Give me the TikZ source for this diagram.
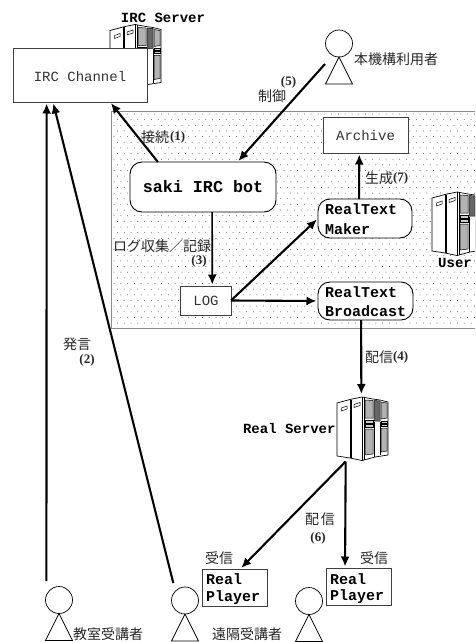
\documentclass[tikz,border=0pt]{standalone}
\usepackage{fontspec}
\setmainfont{Liberation Serif}
\setmonofont{Liberation Mono}
\newfontfamily\cjk{Noto Sans CJK JP}
\usetikzlibrary{arrows.meta}
\newcommand{\fs}[1]{\fontsize{#1}{19}\selectfont}
\tikzset{
  x=1pt,y=-1pt,
  box/.style={draw=black!75,line width=0.9pt,fill=white,inner sep=0pt,outer sep=0pt,minimum width=#1},
  rbox/.style={draw=black,line width=0.9pt,fill=white,rounded corners=12pt,inner sep=0pt,outer sep=0pt,minimum width=#1},
  ghost/.style={inner sep=0pt,outer sep=0pt},
  lab/.style={inner sep=0pt,outer sep=0pt,font=\cjk\fs{14}\color{black!85}},
  num/.style={inner sep=0pt,outer sep=0pt,font=\bfseries\fs{13}\color{black!85}},
  tt/.style={inner sep=0pt,outer sep=0pt,font=\ttfamily\fs{14}\color{black!80}},
  ttb/.style={inner sep=0pt,outer sep=0pt,font=\ttfamily\bfseries\fs{14}},
  conn/.style={line width=2.1pt,-{Latex[length=10pt,width=9pt]},shorten >=1.5pt},
  person/.pic={
    \draw[line width=0.7pt,fill=white] (0,-13.5) circle (13.5);
    \draw[line width=0.7pt] (0,0) -- (-13.5,27) -- (13.5,27) -- cycle;
  },
  serverpic/.pic={
    \begin{scope}[line width=0.7pt]
    \draw[fill=white] (0,6) -- (13,2.5) -- (25,0) -- (36,2) -- (43,3) -- (51,5) -- (51,58) -- (38,60) -- (25,63.5) -- (13,61) -- (0,59) -- cycle;
    \draw (13,2.5) -- (13,61) (14.5,2.5) -- (14.5,61) (25,0) -- (25,63.5) (27,0.5) -- (27,63);
    \draw[fill=black!30,line width=0.5pt] (28,3) -- (36,3.5) -- (36,21) -- (28,21) -- cycle;
    \draw[fill=black!60,line width=0.5pt] (37,3.5) -- (43,4) -- (43,24) -- (37,24) -- cycle;
    \draw[fill=black!30,line width=0.5pt] (44,5) -- (50,6) -- (50,21) -- (44,22) -- cycle;
    \draw[fill=black!30,line width=0.5pt] (28,32) -- (36,32) -- (36,57) -- (28,58) -- cycle;
    \draw[fill=black!30,line width=0.5pt] (44,31) -- (50,31) -- (50,54) -- (44,55) -- cycle;
    \draw[fill=black!20,line width=0.5pt] (28,23) rectangle (36,26) (28,27) rectangle (36,30) (44,24) rectangle (50,26) (44,27) rectangle (50,29);
    \draw (37,25) -- (37,60) (43,25) -- (43,58);
    \draw[fill=white,line width=0.5pt] (4.5,11) -- (10,9) -- (10,12) -- (4.5,14) -- cycle;
    \draw[fill=white,line width=0.5pt] (17,7.5) -- (23,5.5) -- (23,8.5) -- (17,10.5) -- cycle;
    \end{scope}
  }
}
\begin{document}
\begin{tikzpicture}
\useasboundingbox (0,0) rectangle (475,642);
\clip (0,0) rectangle (475,642);
% dotted area
\draw[black!45,line width=0.8pt] (111,328) -- (111,111) -- (475,111) (111,328) -- (475,328);
\fill[black!65]
  \foreach \r in {0,...,37}{
    \foreach \c in {0,...,53}{
      ({114+\c*6.8+mod(\r,2)*3.4},{114+\r*5.65}) circle (0.5)
    }
  };
% servers
\node[ghost,minimum width=51pt,minimum height=66pt] (ircsrv) at (135.5,56) {};
\pic at (110,24.5) {serverpic};
\node[ghost,minimum width=51pt,minimum height=66pt] (usrsrv) at (457.5,224) {};
\pic at (432,192) {serverpic};
\node[ghost,minimum width=51pt,minimum height=66pt] (realsrv) at (362.5,428.5) {};
\pic at (337,397) {serverpic};
% boxes
\node[box=134pt,minimum height=54pt] (channel) at (80,75) {};
\node[tt,anchor=center] at (80,76) {IRC Channel};
\node[rbox=146pt,minimum height=50pt] (bot) at (203,187) {};
\node[ttb,font=\ttfamily\bfseries\fs{16.7}] at (203,187) {saki IRC bot};
\node[box=85pt,minimum height=36pt] (archive) at (365.5,135) {};
\node[tt] at (365.5,135) {Archive};
\node[rbox=94pt,minimum height=39pt] (maker) at (365,218.5) {};
\node[ttb,font=\ttfamily\bfseries\fs{15},anchor=west] at (325,209) {RealText};
\node[ttb,font=\ttfamily\bfseries\fs{15},anchor=west] at (325,229) {Maker};
\node[rbox=95pt,minimum height=38pt] (bcast) at (365.5,301) {};
\node[ttb,font=\ttfamily\bfseries\fs{15},anchor=west] at (325,292.5) {RealText};
\node[ttb,font=\ttfamily\bfseries\fs{15},anchor=west] at (325,311) {Broadcast};
\node[box=51pt,minimum height=29pt] (log) at (205.5,300.5) {};
\node[tt] at (206,300.5) {LOG};
\node[box=65pt,minimum height=37pt] (player1) at (234.5,587.5) {};
\node[ttb,font=\ttfamily\bfseries\fs{15},anchor=west] at (206,579) {Real};
\node[ttb,font=\ttfamily\bfseries\fs{15},anchor=west] at (206,598) {Player};
\node[box=65pt,minimum height=37pt] (player2) at (358.5,586.5) {};
\node[ttb,font=\ttfamily\bfseries\fs{15},anchor=west] at (330,579) {Real};
\node[ttb,font=\ttfamily\bfseries\fs{15},anchor=west] at (330,597) {Player};
% persons
\node[ghost,minimum width=27pt,minimum height=55pt] (uA) at (338.5,56.5) {};
\pic at (339,57) {person};
\node[ghost,minimum width=28pt,minimum height=54pt] (uB) at (59,613) {};
\pic at (59,613.5) {person};
\node[ghost,minimum width=28pt,minimum height=53pt] (uC) at (185,613.5) {};
\pic at (185,614) {person};
\node[ghost,minimum width=28pt,minimum height=53pt] (uD) at (309,614) {};
\pic at (309,614.5) {person};
% connectors
\draw[conn] (uB.115.7) ++(0,-5) -- (channel.-141.5);
\draw[conn] (uC.112.5) ++(-1,-4) -- (channel.-135);
\draw[conn] (bot.151.5) -- (channel.-42);
\draw[conn] (uA.209) -- (bot.36.3);
\draw[conn,line width=1.7pt] (bot.-70.2) -- (log.65.9);
\draw[conn] (log.east) -- (maker.west);
\draw[conn] (log.east) -- (bcast.west);
\draw[conn] (maker.107.1) -- (archive.-109.9);
\draw[conn] (bcast.-103.3) -- (realsrv.92.6);
\draw[conn] (realsrv.-117.9) -- (player1.73.4);
\draw[conn] (realsrv.-117.9) -- (player2.126.1);
% labels
\node[ttb] at (163,18) {IRC Server};
\node[ttb] at (455,263) {User};
\node[ttb,anchor=east] at (335.5,428) {Real Server};
\node[lab,anchor=west] at (141,137) {接続};
\node[num,anchor=west] at (170,137) {(1)};
\node[num] at (288.5,82) {(5)};
\node[lab] at (272,96) {制御};
\node[lab,anchor=west] at (365,178) {生成};
\node[num,anchor=west] at (393,178) {(7)};
\node[lab,anchor=west] at (113,246) {ログ収集／記録};
\node[num] at (199,261) {(3)};
\node[lab] at (77,344) {発言};
\node[num] at (87,360) {(2)};
\node[lab,anchor=west] at (365,357) {配信};
\node[num,anchor=west] at (393,357) {(4)};
\node[lab] at (320,519) {配\hspace{2pt}信};
\node[num] at (318,538) {(6)};
\node[lab] at (219,558) {受信};
\node[lab] at (374,558) {受信};
\node[lab,anchor=west] at (354,59) {本機構利用者};
\node[lab,anchor=west] at (73,634) {教室受講者};
\node[lab,anchor=west] at (212,634) {遠隔受講者};
\end{tikzpicture}
\end{document}
